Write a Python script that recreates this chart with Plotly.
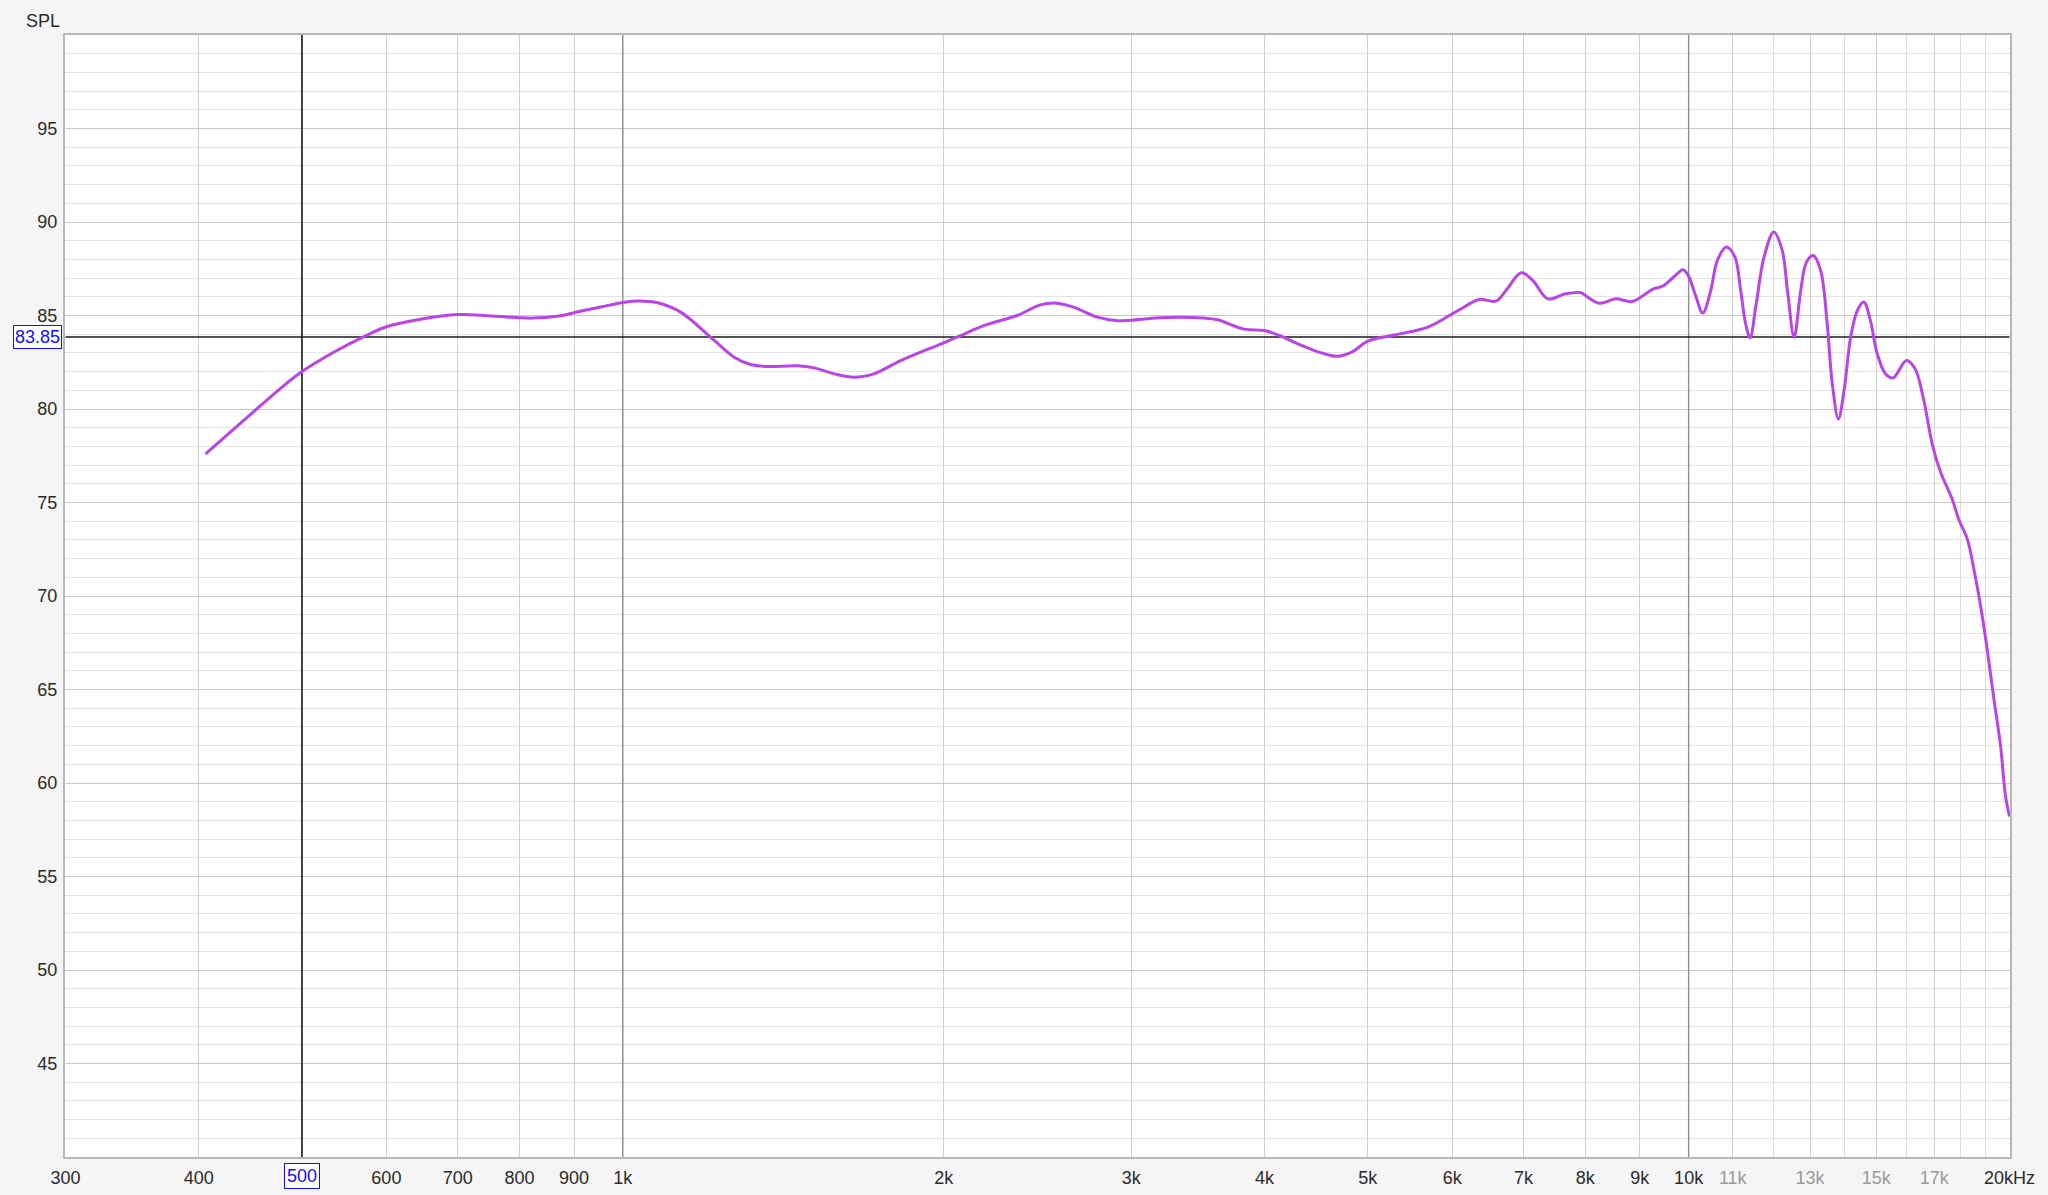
import math
import plotly.graph_objects as go

# ---- data -------------------------------------------------------------
freq_hz = [406, 440, 475, 500, 538, 573, 600, 646, 700, 754, 822, 871, 914, 953,
           1000, 1036, 1078, 1133, 1209, 1272, 1318, 1367, 1458, 1512, 1579, 1648,
           1720, 1823, 2000, 2075, 2181, 2344, 2465, 2555, 2648, 2788, 2911, 3000,
           3190, 3511, 3614, 3828, 4000, 4130, 4322, 4523, 4678, 4840, 5000, 5309,
           5694, 6000, 6131, 6359, 6594, 6740, 6965, 7140, 7378, 7650, 7929, 8000,
           8250, 8544, 8857, 9248, 9460, 9700, 9880, 10000, 10150, 10310, 10490,
           10640, 10850, 11050, 11190, 11310, 11420, 11560, 11770, 12020, 12240,
           12380, 12560, 12740, 12900, 13090, 13300, 13490, 13640, 13820, 13990,
           14190, 14400, 14600, 14810, 15030, 15300, 15550, 16010, 16310, 16610,
           16930, 17240, 17680, 17930, 18260, 18520, 18790, 19060, 19340, 19620,
           19830, 20000]
spl_db = [77.6, 79.35, 81.0, 82.0, 83.1, 83.9, 84.4, 84.8, 85.05, 84.97, 84.86, 84.97,
          85.24, 85.45, 85.7, 85.77, 85.68, 85.18, 83.84, 82.77, 82.38, 82.27, 82.31,
          82.2, 81.88, 81.7, 81.88, 82.59, 83.54, 83.93, 84.46, 85.0, 85.57, 85.66,
          85.45, 84.91, 84.72, 84.75, 84.88, 84.86, 84.77, 84.27, 84.2, 83.93, 83.43,
          83.0, 82.82, 83.07, 83.63, 83.97, 84.38, 85.09, 85.39, 85.86, 85.77, 86.34,
          87.28, 86.88, 85.89, 86.15, 86.22, 86.07, 85.66, 85.89, 85.75, 86.4, 86.58,
          87.1, 87.45, 87.1, 86.07, 85.13, 86.34, 87.95, 88.66, 88.13, 86.34, 84.56,
          83.81, 85.45, 88.13, 89.47, 88.48, 86.34, 83.84, 86.34, 87.86, 88.21, 87.41,
          84.56, 81.34, 79.47, 80.98, 83.84, 85.27, 85.72, 84.73, 82.95, 81.88, 81.66,
          82.59, 82.15, 80.54, 78.1, 76.6, 75.15, 74.08, 73.04, 71.43, 69.47, 67.15,
          64.47, 61.97, 59.29, 58.22]

x_tick_vals = [300, 400, 500, 600, 700, 800, 900, 1000, 2000, 3000, 4000, 5000, 6000,
               7000, 8000, 9000, 10000, 11000, 13000, 15000, 17000, 20000]
x_tick_labels = ["300", "400", "500", "600", "700", "800", "900", "1k", "2k", "3k", "4k",
                 "5k", "6k", "7k", "8k", "9k", "10k", "11k", "13k", "15k", "17k", "20kHz"]
x_dim_labels = ["11k", "13k", "15k", "17k"]
x_minor_grid = [12000, 14000, 16000, 18000, 19000]
x_dark_grid = [1000, 10000]

y_tick_vals = [45, 50, 55, 60, 65, 70, 75, 80, 85, 90, 95]
y_tick_labels = [str(v) for v in y_tick_vals]
y_range = [40, 100]

cursor_freq = 500
cursor_level = 83.85

# ---- figure -----------------------------------------------------------
FONT = "Liberation Sans, Arial, Helvetica, sans-serif"
TXT = "#2b2b2b"

ticktext = []
for v, lab in zip(x_tick_vals, x_tick_labels):
    if v == cursor_freq:
        ticktext.append("")
    elif lab in x_dim_labels:
        ticktext.append(f"<span style='color:#9a9a9a'>{lab}</span>")
    else:
        ticktext.append(lab)

fig = go.Figure()

# darker decade gridlines
for f in x_dark_grid:
    fig.add_trace(go.Scatter(x=[f, f], y=y_range, mode="lines",
                             line=dict(color="#8e8e8e", width=1.4),
                             hoverinfo="skip", showlegend=False))
# cursor lines
fig.add_trace(go.Scatter(x=[cursor_freq, cursor_freq], y=y_range, mode="lines",
                         line=dict(color="#1a1a1a", width=1.6),
                         hoverinfo="skip", showlegend=False))
fig.add_trace(go.Scatter(x=[300, 20000], y=[cursor_level, cursor_level], mode="lines",
                         line=dict(color="#1a1a1a", width=1.6),
                         hoverinfo="skip", showlegend=False))

fig.add_trace(go.Scatter(
    x=freq_hz, y=spl_db, mode="lines",
    line=dict(color="#bb44e8", width=3, shape="spline", smoothing=1.0),
    hoverinfo="skip", showlegend=False))

annotations = [
    dict(text="SPL", xref="paper", yref="paper", x=0, y=1, xanchor="right",
         yanchor="middle", xshift=-3, yshift=14, showarrow=False,
         font=dict(family=FONT, size=18, color=TXT)),
    dict(text=f"{cursor_level:.2f}", xref="paper", yref="y", x=0, y=cursor_level,
         xanchor="right", yanchor="middle", xshift=-3, showarrow=False,
         font=dict(family=FONT, size=18, color="#1010ff"),
         bordercolor="#1010ff", borderwidth=1, borderpad=1, bgcolor="#ffffff"),
    dict(text=str(cursor_freq), xref="x", yref="paper", x=math.log10(cursor_freq), y=0,
         xanchor="center", yanchor="top", yshift=-6, showarrow=False,
         font=dict(family=FONT, size=18, color="#1010ff"),
         bordercolor="#1010ff", borderwidth=1, borderpad=2, bgcolor="#ffffff"),
]

fig.update_layout(
    width=2048, height=1195,
    margin=dict(l=65, r=38, t=35, b=38, pad=0, autoexpand=False),
    paper_bgcolor="#f5f5f5", plot_bgcolor="#ffffff",
    font=dict(family=FONT, size=18, color=TXT),
    showlegend=False,
    annotations=annotations,
    xaxis=dict(
        type="log", range=[math.log10(300) - 0.0005, math.log10(20000) + 0.0005],
        tickmode="array", tickvals=x_tick_vals, ticktext=ticktext,
        ticks="", ticklabelstandoff=3, automargin=False,
        showgrid=True, gridcolor="#cfcfcf", gridwidth=1.3,
        minor=dict(tickmode="array", tickvals=x_minor_grid, showgrid=True,
                   gridcolor="#dcdcdc", gridwidth=1.3, ticks=""),
        showline=True, linecolor="#b8b8b8", linewidth=2, mirror=True,
        zeroline=False, fixedrange=True,
        tickfont=dict(family=FONT, size=18, color=TXT)),
    yaxis=dict(
        range=y_range,
        tickmode="array", tickvals=y_tick_vals, ticktext=y_tick_labels,
        ticks="", ticklabelstandoff=2, automargin=False,
        showgrid=True, gridcolor="#c8c8c8", gridwidth=1.3,
        minor=dict(tickmode="linear", tick0=0, dtick=1, showgrid=True,
                   gridcolor="#e4e4e4", gridwidth=1.3, ticks=""),
        showline=True, linecolor="#b8b8b8", linewidth=2, mirror=True,
        zeroline=False, fixedrange=True,
        tickfont=dict(family=FONT, size=18, color=TXT)),
)

fig.write_html("out.html",
               config={"displayModeBar": False},
               post_script="document.body.style.margin='0';"
                           "document.body.style.background='#f5f5f5';")
